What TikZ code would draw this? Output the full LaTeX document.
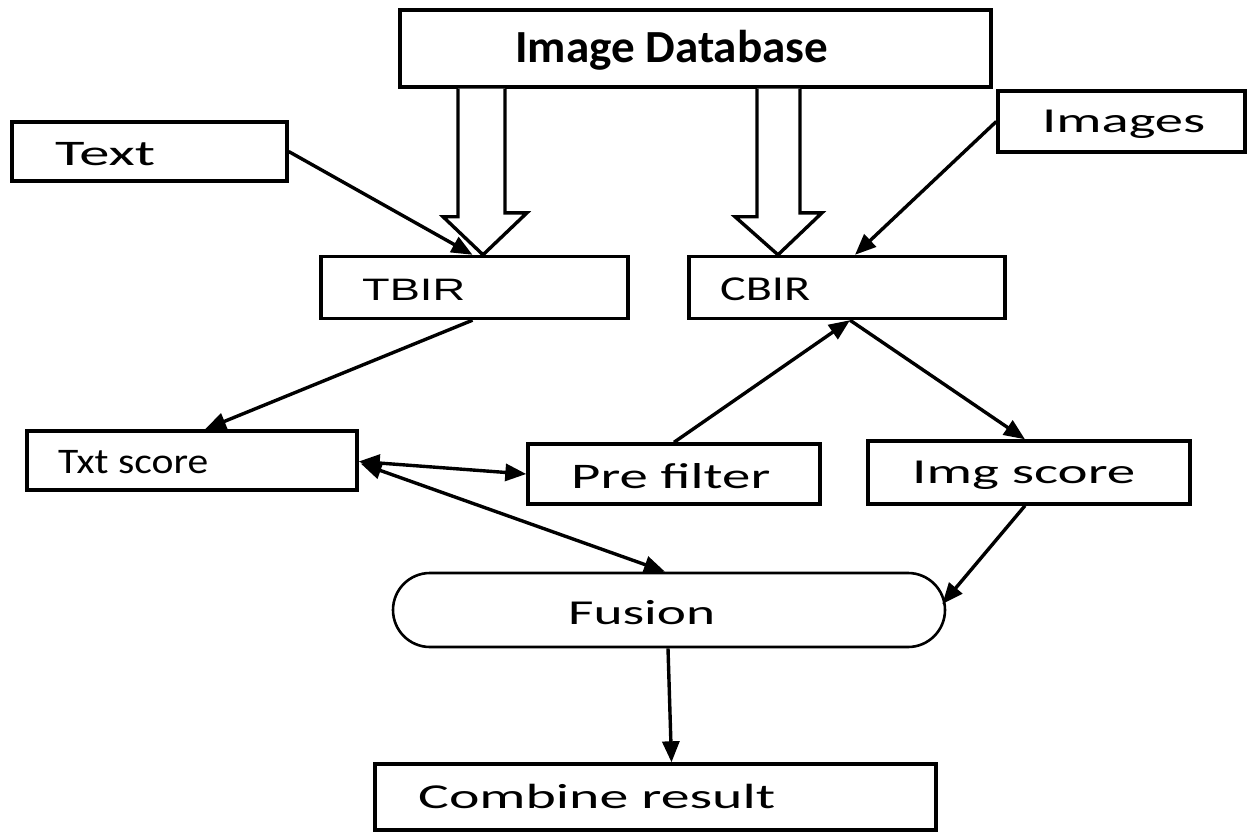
\documentclass[tikz,border=0pt]{standalone}
\usepackage{fontspec}
\setmainfont{Carlito}
\newfontfamily\arialfont{Liberation Sans}
\usetikzlibrary{arrows.meta,calc}
\newcommand\lab[3]{\resizebox{#1pt}{\height}{\fontsize{#2}{#2}\selectfont #3}}
\tikzset{
  box/.style={draw=black, line width=3.4pt, rectangle, inner sep=0pt, fill=white},
  lbl/.style={inner sep=0pt, anchor=base west, text=black},
  conn/.style={line width=3.4pt, -{Triangle[length=21pt,width=17pt]}},
  bconn/.style={line width=3.4pt, {Triangle[length=21pt,width=17pt]}-{Triangle[length=21pt,width=17pt]}},
  hollow/.style={draw=black, line width=3.4pt, fill=white, line join=miter},
}
\begin{document}
\begin{tikzpicture}[x=1pt,y=-1pt]
\useasboundingbox (0,0) rectangle (1248,832);
% boxes
\node[box, minimum width=591pt, minimum height=77pt] (db) at (695.5,48.5) {};
\node[box, minimum width=275pt, minimum height=59pt] (text) at (149.5,151.5) {};
\node[box, minimum width=247pt, minimum height=61pt] (images) at (1121.5,121.5) {};
\node[box, minimum width=307pt, minimum height=62pt] (tbir) at (474.5,287.5) {};
\node[box, minimum width=316pt, minimum height=62pt] (cbir) at (847,287.5) {};
\node[box, minimum width=330pt, minimum height=59pt] (txts) at (192,460.5) {};
\node[box, minimum width=292pt, minimum height=60pt] (pre) at (674,474) {};
\node[box, minimum width=322pt, minimum height=63pt] (imgs) at (1029,472.5) {};
\node[draw=black, line width=2.6pt, rectangle, rounded corners=37pt, minimum width=552pt, minimum height=74pt, inner sep=0pt] (fusion) at (669,610) {};
\node[box, minimum width=561pt, minimum height=66pt] (comb) at (655.5,797) {};
% labels
\node[lbl] (ldb) at (515,63) {\lab{313}{46}{\bfseries Image Database}};
\node[lbl] (ltext) at (55,166) {\lab{100}{36}{Text}};
\node[lbl] (limages) at (1042,133) {\lab{163}{35}{Images}};
\node[lbl] (ltbir) at (362,300) {\lab{103}{31}{\arialfont TBIR}};
\node[lbl] (lcbir) at (720,300) {\lab{90}{35}{CBIR}};
\node[lbl] (ltxts) at (58,473) {\lab{150}{36}{Txt score}};
\node[lbl] (lpre) at (571,488) {\lab{199}{36}{Pre filter}};
\node[lbl] (limgs) at (912,483) {\lab{223}{35}{Img score}};
\node[lbl] (lfus) at (568,624) {\lab{147}{35}{Fusion}};
\node[lbl] (lcomb) at (418,808) {\lab{357}{35}{Combine result}};
% hollow block arrows from database
\coordinate (t1) at ($(tbir.north)+(8.5,0)$);
\draw[hollow] ($(db.south)+(-237.5,0)$) -- ++(0,128) -- ++(-15,0) -- (t1) -- ($(t1)+(44,-42)$) -- ++(-22,0) -- ($(db.south)+(-190.5,0)$);
\coordinate (t2) at ($(cbir.north)+(-69,0)$);
\draw[hollow] ($(db.south)+(61.5,0)$) -- ++(0,128) -- ++(-22,0) -- (t2) -- ($(t2)+(44,-42)$) -- ++(-22,0) -- ($(db.south)+(104.5,0)$);
% connectors
\draw[conn] (text.east) -- ($(tbir.north)+(-2,0)$);
\draw[conn] (images.west) -- ($(cbir.north)+(8,0)$);
\draw[conn] ($(tbir.south)+(-2,0)$) -- ($(txts.north)+(13,0)$);
\draw[conn] (pre.north) -- ($(cbir.south)+(3,0)$);
\draw[conn] ($(cbir.south)+(3,0)$) -- ($(imgs.north)+(-4,0)$);
\draw[bconn] ($(txts.east)+(0,1)$) -- (pre.west);
\draw[bconn] ($(txts.east)+(2,3)$) -- ($(fusion.north)+(-4,0)$);
\draw[conn] ($(imgs.south)+(-4,0)$) -- ($(fusion.east)+(-4,-6)$);
\draw[conn] ($(fusion.south)+(-1,0)$) -- ($(comb.north)+(16,0)$);
\end{tikzpicture}
\end{document}
